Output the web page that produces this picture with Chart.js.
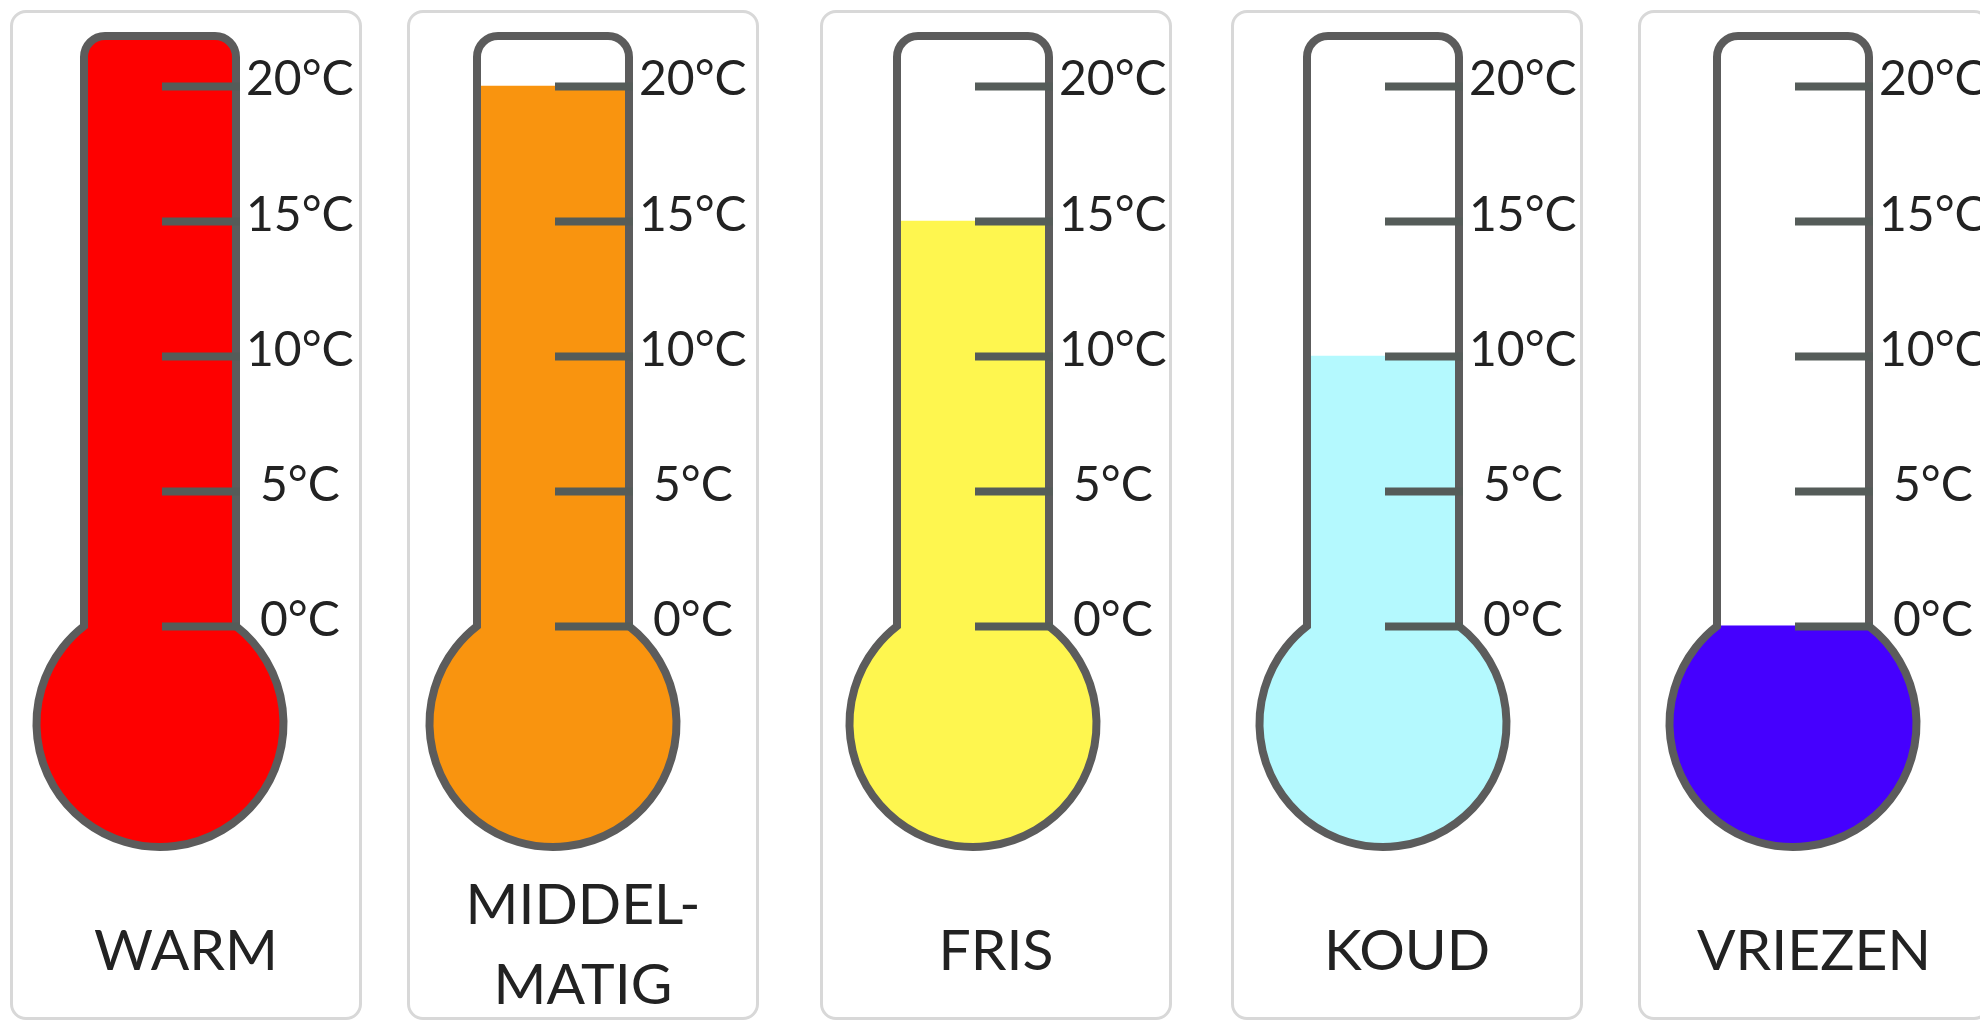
<!DOCTYPE html>
<html><head><meta charset="utf-8">
<script src="https://cdn.jsdelivr.net/npm/chart.js@4.4.1/dist/chart.umd.min.js"></script>
<style>
html,body{margin:0;padding:0;background:#fff;width:1980px;height:1025px;overflow:hidden;position:relative}
.panel{position:absolute;top:10px;width:352px;height:1010px;border:3px solid #d8d8d8;border-radius:16px;background:#fff;box-sizing:border-box}
.wrap{position:absolute;top:0;width:352px;height:1025px}
</style></head><body>
<script>
// ---- data ----
const categories = [['WARM'], ['MIDDEL-', 'MATIG'], ['FRIS'], ['KOUD'], ['VRIEZEN']];
const temperatures = [22, 20, 15, 10, 0];
const fillColors = ['#fe0000', '#f9940f', '#fef64f', '#b4f9fe', '#4500fe'];
const tickValues = [0, 5, 10, 15, 20];
const scaleMin = -8.4;
const scaleMax = 22;

// ---- layout ----
const panelLefts = [10, 407, 820, 1231, 1638];
const tubeLefts = [80, 473, 893, 1303, 1713];
const PANEL_W = 352;

function geom(chart) {
  const bar = chart.getDatasetMeta(0).data[0];
  const ys = chart.scales.y;
  const cx = bar.x;
  const hw = bar.width / 2 + 4;
  const top = ys.getPixelForValue(scaleMax) + 4;
  const y0 = ys.getPixelForValue(0);
  const R = 123.5;
  const cy = y0 + Math.sqrt(R * R - hw * hw);
  return {cx, hw, top, y0, R, cy, r: 21};
}
function bodyPath(ctx, g) {
  const jy = g.cy - Math.sqrt(g.R * g.R - g.hw * g.hw);
  ctx.beginPath();
  ctx.moveTo(g.cx - g.hw, jy);
  ctx.lineTo(g.cx - g.hw, g.top + g.r);
  ctx.arcTo(g.cx - g.hw, g.top, g.cx - g.hw + g.r, g.top, g.r);
  ctx.lineTo(g.cx + g.hw - g.r, g.top);
  ctx.arcTo(g.cx + g.hw, g.top, g.cx + g.hw, g.top + g.r, g.r);
  ctx.lineTo(g.cx + g.hw, jy);
  const angR = Math.atan2(jy - g.cy, g.hw);
  const angL = Math.atan2(jy - g.cy, -g.hw);
  ctx.arc(g.cx, g.cy, g.R, angR, angL, false);
  ctx.closePath();
}
const thermoPlugin = {
  id: 'thermo',
  beforeDatasetsDraw(chart) {
    const g = geom(chart);
    const ctx = chart.ctx;
    ctx.save();
    bodyPath(ctx, g);
    ctx.fillStyle = '#fff';
    ctx.fill();
    ctx.clip();
    ctx.fillStyle = chart.data.datasets[0].backgroundColor;
    ctx.fillRect(g.cx - g.R - 10, g.y0 - 0.5, 2 * g.R + 20, g.cy + g.R + 10 - g.y0);
  },
  afterDatasetsDraw(chart) {
    const ctx = chart.ctx;
    ctx.restore();
    const g = geom(chart);
    ctx.save();
    bodyPath(ctx, g);
    ctx.lineWidth = 8;
    ctx.strokeStyle = '#5c5c5c';
    ctx.lineJoin = 'miter';
    ctx.stroke();
    ctx.restore();
  }
};

categories.forEach((cat, i) => {
  const panel = document.createElement('div');
  panel.className = 'panel';
  panel.style.left = panelLefts[i] + 'px';
  document.body.appendChild(panel);
});

categories.forEach((cat, i) => {
  const wrap = document.createElement('div');
  wrap.className = 'wrap';
  const canvasLeft = tubeLefts[i] - 70;
  wrap.style.left = canvasLeft + 'px';
  const cv = document.createElement('canvas');
  wrap.appendChild(cv);
  document.body.appendChild(wrap);
  const lines = cat.length;
  const labelShift = (panelLefts[i] + PANEL_W / 2) - (canvasLeft + 150);
  new Chart(cv, {
    type: 'bar',
    data: {
      labels: [cat],
      datasets: [{
        data: [temperatures[i]],
        backgroundColor: fillColors[i],
        borderWidth: 0,
        barThickness: 144
      }]
    },
    options: {
      responsive: true,
      maintainAspectRatio: false,
      animation: false,
      events: [],
      layout: {padding: {top: 32, left: 70, right: 0, bottom: 0}},
      plugins: {legend: {display: false}, tooltip: {enabled: false}},
      scales: {
        x: {
          grid: {display: false, drawTicks: false},
          border: {display: false},
          afterFit: s => { s.height = 172; s.paddingLeft = 0; s.paddingRight = 0; },
          ticks: {
            font: {family: 'Lato', size: 57, lineHeight: 1.4},
            color: '#222',
            padding: lines === 1 ? 59 : 13,
            labelOffset: labelShift,
            maxRotation: 0, minRotation: 0, autoSkip: false
          }
        },
        y: {
          position: 'right',
          min: scaleMin,
          max: scaleMax,
          afterBuildTicks: s => { s.ticks = tickValues.map(v => ({value: v})); },
          afterFit: s => { s.width = 122; s.paddingTop = 0; s.paddingBottom = 0; },
          grid: {drawOnChartArea: false, drawTicks: true, tickLength: -78, tickWidth: 8, tickColor: '#555c59', z: 1},
          border: {display: false},
          ticks: {
            padding: 84,
            crossAlign: 'center',
            labelOffset: -6,
            font: {family: 'Lato', size: 48},
            color: '#222',
            callback: v => v + '°C'
          }
        }
      }
    },
    plugins: [thermoPlugin]
  });
});
</script>
</body></html>
